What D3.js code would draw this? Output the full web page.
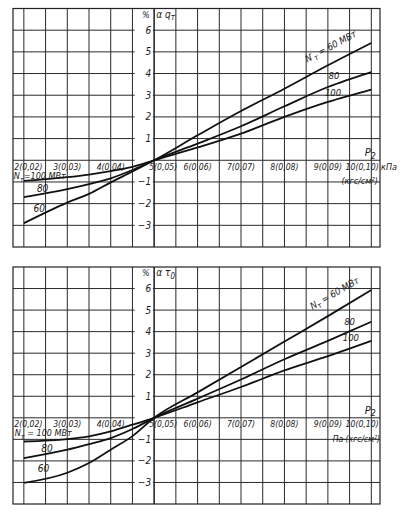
<!DOCTYPE html>
<html lang="ru">
<head>
<meta charset="UTF-8">
<title>p2 correction curves</title>
<script src="https://d3js.org/d3.v7.min.js"></script>
<style>
  body { margin: 0; background: #fff; }
  svg text { font-family: "Liberation Sans Narrow", "DejaVu Sans Condensed", sans-serif; font-style: italic; fill: #1a1a1a; }
  .grid line { stroke: #2a2a2a; stroke-width: 1; }
  .curve { fill: none; stroke: #111; stroke-width: 1.8; }
</style>
</head>
<body>
<div id="chart"></div>
<script>
// pressure p2, kPa (kgf/cm2 in brackets)
var pressure = [2, 3, 3.5, 4, 4.5, 5, 6, 7, 8, 9, 10];
var xTicks = [2, 3, 4, 5, 6, 7, 8, 9, 10];
var xTickLabels = ["2(0,02)", "3(0,03)", "4(0,04)", "5(0,05)", "6(0,06)", "7(0,07)", "8(0,08)", "9(0,09)", "10(0,10)"];
var yTicks = [6, 5, 4, 3, 2, 1, -1, -2, -3];

// upper chart: alpha q_t, %
var qN60  = [-2.9, -1.95, -1.55, -1.02, -0.52, 0, 1.15, 2.27, 3.3, 4.38, 5.41];
var qN80  = [-1.7, -1.33, -1.1, -0.83, -0.45, 0, 0.77, 1.57, 2.49, 3.38, 4.07];
var qN100 = [-0.95, -0.78, -0.66, -0.5, -0.3, 0, 0.59, 1.23, 2.0, 2.69, 3.26];

// lower chart: alpha tau_0, %
var tN60  = [-3.02, -2.55, -2.1, -1.48, -0.85, 0, 1.18, 2.36, 3.54, 4.72, 5.93];
var tN80  = [-1.87, -1.48, -1.22, -0.94, -0.52, 0, 0.89, 1.78, 2.72, 3.57, 4.46];
var tN100 = [-1.1, -0.99, -0.86, -0.63, -0.32, 0, 0.72, 1.43, 2.2, 2.86, 3.57];

var W = 406, H = 512;
var svg = d3.select("#chart").append("svg").attr("width", W).attr("height", H);

var x = d3.scaleLinear().domain([1.75, 10.2]).range([13, 380]);

function sub(t, main, s, rest) {
  t.append("tspan").text(main);
  t.append("tspan").attr("font-size", "0.8em").attr("dy", 2.5).text(s);
  if (rest) t.append("tspan").attr("dy", -2.5).text(rest);
}

function drawPanel(cfg) {
  var y = d3.scaleLinear().domain([-4, 7]).range(cfg.yRange);
  var g = svg.append("g");
  var grid = g.append("g").attr("class", "grid");

  // vertical grid every 0.5 kPa
  var vx = d3.range(2, 10.01, 0.5);
  grid.selectAll(".v").data(vx).enter().append("line")
    .attr("x1", function(d) { return x(d); }).attr("x2", function(d) { return x(d); })
    .attr("y1", y(7)).attr("y2", y(-4));

  // horizontal grid, broken where the y labels sit
  var hy = d3.range(-3, 6.01, 1);
  var gapL = x(4.55), gapR = x(4.97);
  grid.selectAll(".h1").data(hy).enter().append("line")
    .attr("x1", x(1.75)).attr("x2", gapL)
    .attr("y1", function(d) { return y(d); }).attr("y2", function(d) { return y(d); });
  grid.selectAll(".h2").data(hy).enter().append("line")
    .attr("x1", gapR).attr("x2", x(10.2))
    .attr("y1", function(d) { return y(d); }).attr("y2", function(d) { return y(d); });

  // frame
  g.append("rect").attr("x", x(1.75)).attr("y", y(7))
    .attr("width", x(10.2) - x(1.75)).attr("height", y(-4) - y(7))
    .attr("fill", "none").attr("stroke", "#222").attr("stroke-width", 1.2);

  // y axis at p2 = 5 kPa
  g.append("line").attr("x1", x(5)).attr("x2", x(5)).attr("y1", y(7)).attr("y2", y(-4))
    .attr("stroke", "#222").attr("stroke-width", 1.2);

  // y tick labels
  g.selectAll(".yl").data(yTicks).enter().append("text")
    .attr("x", x(4.93)).attr("y", function(d) { return y(d) + 3.5; })
    .attr("text-anchor", "end").attr("font-size", 10)
    .text(function(d) { return d < 0 ? "\u2212" + (-d) : d; });

  // x tick labels along zero line
  g.selectAll(".xl").data(xTicks).enter().append("text")
    .attr("x", function(d) {
      if (d === 2) return x(1.78);
      if (d === 5) return x(5) - 5;
      if (d === 10) return x(10.17);
      return x(d);
    })
    .attr("y", y(0) + cfg.xLabelDy)
    .attr("text-anchor", function(d) { return (d === 5 || d === 2) ? "start" : d === 10 ? "end" : "middle"; })
    .attr("font-size", 8.6)
    .text(function(d, i) { return xTickLabels[i]; });

  // curves
  var line = d3.line()
    .x(function(d, i) { return x(pressure[i]); })
    .y(function(d) { return y(d); })
    .curve(d3.curveMonotoneX);
  cfg.series.forEach(function(s) {
    g.append("path").attr("class", "curve").attr("d", line(s));
  });

  // axis title
  g.append("text").attr("x", x(4.9)).attr("y", y(7) + 9).attr("text-anchor", "end")
    .attr("font-size", 9).text("%");
  var at = g.append("text").attr("x", x(5.05)).attr("y", y(7) + 9).attr("font-size", 10);
  sub(at, cfg.titleMain, cfg.titleSub);

  // right curve labels
  var r = cfg.rightLabels;
  var t60 = g.append("text").attr("font-size", 9.5)
    .attr("transform", "translate(" + x(r[0][0]) + "," + y(r[0][1]) + ") rotate(" + cfg.angle + ")")
    .attr("text-anchor", "middle");
  sub(t60, cfg.nMain, "т", " = 60 МВт");
  g.append("text").attr("x", x(r[1][0])).attr("y", y(r[1][1])).attr("text-anchor", "middle")
    .attr("font-size", 9.5).text("80");
  g.append("text").attr("x", x(r[2][0])).attr("y", y(r[2][1])).attr("text-anchor", "middle")
    .attr("font-size", 9.5).text("100");

  // left curve labels
  var l = cfg.leftLabels;
  var t100 = g.append("text").attr("x", x(l[0][0])).attr("y", y(l[0][1])).attr("font-size", 9);
  sub(t100, "N", "т", cfg.leftText);
  g.append("text").attr("x", x(l[1][0])).attr("y", y(l[1][1])).attr("font-size", 10).text("80");
  g.append("text").attr("x", x(l[2][0])).attr("y", y(l[2][1])).attr("font-size", 10).text("60");

  // p2 and units
  var p = g.append("text").attr("x", x(9.85)).attr("y", y(0) - 4).attr("font-size", 11);
  sub(p, "P", "2");
  cfg.units(g, y);
}

drawPanel({
  yRange: [247, 8.5],
  xLabelDy: 9.5,
  series: [qN60, qN80, qN100],
  titleMain: "\u03b1 q", titleSub: "т",
  nMain: "N\u2032",
  angle: -28,
  rightLabels: [[9.1, 5.12], [9.14, 3.75], [9.12, 2.98]],
  leftText: "=100 МВт",
  leftLabels: [[1.77, -0.88], [2.3, -1.45], [2.22, -2.4]],
  units: function(g, y) {
    g.append("text").attr("x", x(10.2) + 1).attr("y", y(0) + 10).attr("font-size", 9).text("кПа");
    g.append("text").attr("x", x(10.15)).attr("y", y(-1.08)).attr("text-anchor", "end")
      .attr("font-size", 9).text("(кгс/см\u00b2)");
  }
});

drawPanel({
  yRange: [504, 267],
  xLabelDy: 9,
  series: [tN60, tN80, tN100],
  titleMain: "\u03b1 \u03c4", titleSub: "0",
  nMain: "N",
  angle: -30,
  rightLabels: [[9.19, 5.65], [9.5, 4.3], [9.53, 3.55]],
  leftText: " = 100 МВт",
  leftLabels: [[1.79, -0.86], [2.4, -1.6], [2.32, -2.5]],
  units: function(g, y) {
    g.append("line").attr("x1", x(9.2)).attr("x2", x(9.4)).attr("y1", y(-1.0)).attr("y2", y(-1.0))
      .attr("stroke", "#222");
    g.append("text").attr("x", x(10.2)).attr("y", y(-1.1)).attr("text-anchor", "end")
      .attr("font-size", 8.5).text("Па (кгс/см\u00b2)");
  }
});
</script>
</body>
</html>
